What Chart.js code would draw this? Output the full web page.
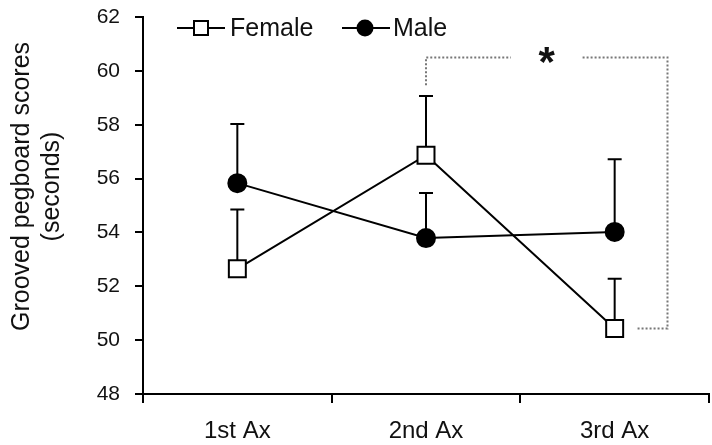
<!DOCTYPE html>
<html>
<head>
<meta charset="utf-8">
<script src="https://cdn.jsdelivr.net/npm/chart.js@4/dist/chart.umd.min.js"></script>
<style>
html, body { margin: 0; padding: 0; background: #fff; }
#wrap { width: 712px; height: 445px; }
</style>
</head>
<body>
<div id="wrap"><canvas id="pegChart" width="712" height="445"></canvas></div>
<script>
var categories = ['1st Ax', '2nd Ax', '3rd Ax'];
var femaleScores = [52.65, 56.87, 50.43];
var femaleErr = [2.2, 2.2, 1.85];
var maleScores = [55.83, 53.79, 54.02];
var maleErr = [2.2, 1.67, 2.7];
var yTicks = [48, 50, 52, 54, 56, 58, 60, 62];
var yTitle = ['Grooved pegboard scores', '(seconds)'];

// significance bracket (female 2nd Ax vs 3rd Ax), in axis units
var bracketTop = 60.5;
var bracketLeftFoot = 59.47;
var bracketGap = [1.45, 1.83];
var bracketRight = 2.28;
var bracketFootEnd = 2.12;
var starLabel = '*';
var starPos = [1.64, 60.6];

var FONT = '"Liberation Sans", Arial, Helvetica, sans-serif';
var INK = '#111';

var errorBars = {
    id: 'errorBars',
    beforeDatasetsDraw: function(chart) {
        var ctx = chart.ctx;
        var ys = chart.scales.y;
        var errs = [femaleErr, maleErr];
        ctx.save();
        ctx.strokeStyle = '#000';
        ctx.lineWidth = 2;
        chart.data.datasets.forEach(function(ds, i) {
            var meta = chart.getDatasetMeta(i);
            meta.data.forEach(function(pt, j) {
                var top = ys.getPixelForValue(ds.data[j] + errs[i][j]);
                ctx.beginPath();
                ctx.moveTo(pt.x, pt.y);
                ctx.lineTo(pt.x, top);
                ctx.moveTo(pt.x - 7, top);
                ctx.lineTo(pt.x + 7, top);
                ctx.stroke();
            });
        });
        ctx.restore();
    }
};

var extras = {
    id: 'extras',
    afterDraw: function(chart) {
        var ctx = chart.ctx;
        var xs = chart.scales.x, ys = chart.scales.y;
        var area = chart.chartArea;
        ctx.save();

        // bracket
        ctx.strokeStyle = '#777';
        ctx.lineWidth = 2;
        ctx.setLineDash([2, 2]);
        ctx.beginPath();
        ctx.moveTo(xs.getPixelForValue(1), ys.getPixelForValue(bracketLeftFoot));
        ctx.lineTo(xs.getPixelForValue(1), ys.getPixelForValue(bracketTop));
        ctx.lineTo(xs.getPixelForValue(bracketGap[0]), ys.getPixelForValue(bracketTop));
        ctx.moveTo(xs.getPixelForValue(bracketGap[1]), ys.getPixelForValue(bracketTop));
        ctx.lineTo(xs.getPixelForValue(bracketRight), ys.getPixelForValue(bracketTop));
        ctx.lineTo(xs.getPixelForValue(bracketRight), ys.getPixelForValue(femaleScores[2]));
        ctx.lineTo(xs.getPixelForValue(bracketFootEnd), ys.getPixelForValue(femaleScores[2]));
        ctx.stroke();
        ctx.setLineDash([]);

        // asterisk
        ctx.fillStyle = INK;
        ctx.font = 'bold 42px ' + FONT;
        ctx.textAlign = 'center';
        ctx.textBaseline = 'alphabetic';
        var m = ctx.measureText(starLabel);
        var sy = ys.getPixelForValue(starPos[1]) + (m.actualBoundingBoxAscent - m.actualBoundingBoxDescent) / 2;
        ctx.fillText(starLabel, xs.getPixelForValue(starPos[0]), sy);

        // y title
        ctx.font = '25px ' + FONT;
        ctx.textBaseline = 'middle';
        var cy = (area.top + area.bottom) / 2 - 19;
        [22, 52].forEach(function(tx, k) {
            ctx.save();
            ctx.translate(tx, cy);
            ctx.rotate(-Math.PI / 2);
            ctx.fillText(yTitle[k], 0, 0);
            ctx.restore();
        });

        // legend
        var lx = area.left + 34, ly = 28;
        ctx.strokeStyle = '#000';
        ctx.lineWidth = 2;
        ctx.beginPath();
        ctx.moveTo(lx, ly); ctx.lineTo(lx + 48, ly);
        ctx.stroke();
        ctx.fillStyle = '#fff';
        ctx.fillRect(lx + 17, ly - 7, 14, 14);
        ctx.strokeRect(lx + 17, ly - 7, 14, 14);
        ctx.fillStyle = INK;
        ctx.font = '25px ' + FONT;
        ctx.textAlign = 'left';
        ctx.fillText(chart.data.datasets[0].label, lx + 53, ly + 1);

        var mx = lx + 165;
        ctx.beginPath();
        ctx.moveTo(mx, ly); ctx.lineTo(mx + 48, ly);
        ctx.stroke();
        ctx.fillStyle = '#000';
        ctx.beginPath();
        ctx.arc(mx + 23, ly, 8.5, 0, Math.PI * 2);
        ctx.fill();
        ctx.fillStyle = INK;
        ctx.fillText(chart.data.datasets[1].label, mx + 51, ly + 1);

        ctx.restore();
    }
};

var ctx = document.getElementById('pegChart');
var pegChart = new Chart(ctx, {
    type: 'line',
    data: {
        labels: categories,
        datasets: [{
            label: 'Female',
            data: femaleScores,
            borderColor: '#000',
            borderWidth: 2,
            pointStyle: 'rect',
            pointRadius: 12,
            pointBackgroundColor: '#fff',
            pointBorderColor: '#000',
            pointBorderWidth: 2,
            tension: 0
        }, {
            label: 'Male',
            data: maleScores,
            borderColor: '#000',
            borderWidth: 2,
            pointStyle: 'circle',
            pointRadius: 9,
            pointBackgroundColor: '#000',
            pointBorderColor: '#000',
            pointBorderWidth: 2,
            tension: 0
        }]
    },
    options: {
        responsive: false,
        animation: false,
        devicePixelRatio: 1,
        layout: { autoPadding: false, padding: { top: 17, right: 3, left: 0, bottom: 0 } },
        plugins: {
            legend: { display: false },
            tooltip: { enabled: false }
        },
        scales: {
            x: {
                offset: true,
                grid: { offset: true, drawOnChartArea: false, color: '#000', lineWidth: 2, tickLength: 9 },
                border: { color: '#000', width: 2 },
                ticks: { color: INK, font: { family: FONT, size: 24 }, padding: 14, maxRotation: 0 },
                afterFit: function(scale) {
                    scale.height = 51;
                    scale.paddingLeft = 0;
                    scale.paddingRight = 0;
                }
            },
            y: {
                min: 48,
                max: 62,
                grid: { drawOnChartArea: false, color: '#000', lineWidth: 2, tickLength: 8 },
                border: { color: '#000', width: 2 },
                ticks: { color: INK, font: { family: FONT, size: 21 }, padding: 15 },
                afterBuildTicks: function(scale) {
                    scale.ticks = yTicks.map(function(v) { return { value: v }; });
                },
                afterFit: function(scale) {
                    scale.width = 143;
                    scale.paddingTop = 0;
                    scale.paddingBottom = 0;
                }
            }
        }
    },
    plugins: [errorBars, extras]
});
</script>
</body>
</html>
